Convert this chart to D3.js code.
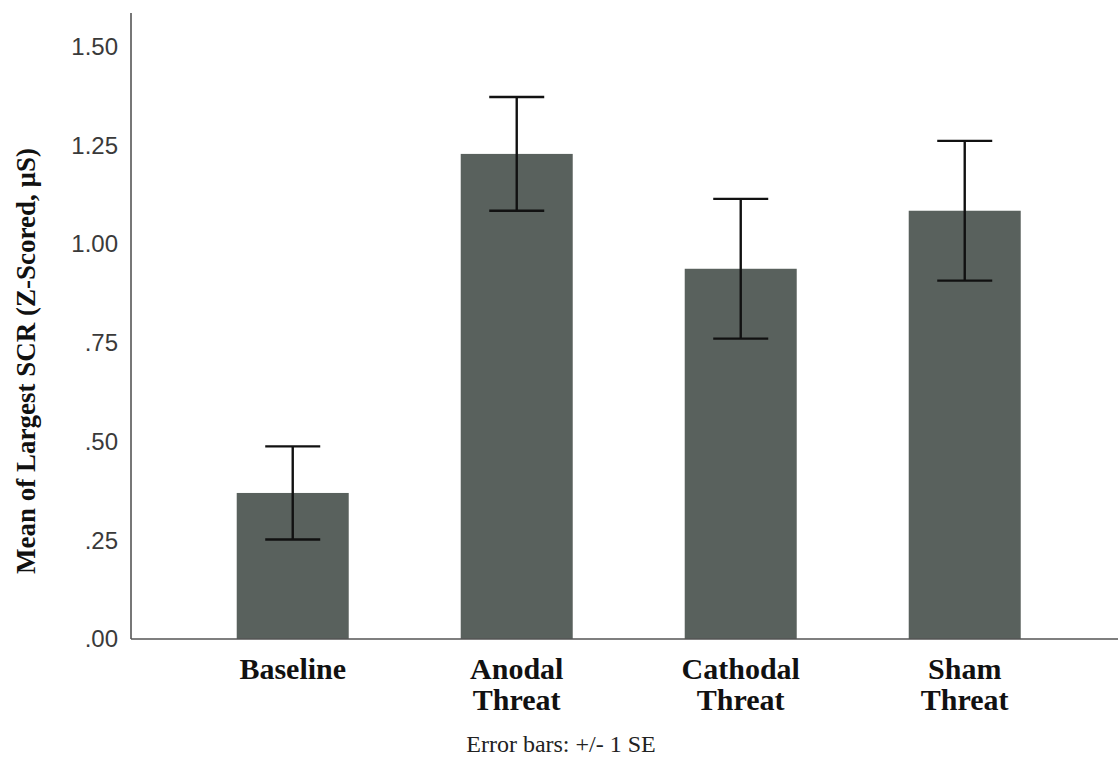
<!DOCTYPE html>
<html>
<head>
<meta charset="utf-8">
<script src="https://cdn.jsdelivr.net/npm/d3@7"></script>
<style>
  html, body { margin: 0; padding: 0; background: #fff; }
  svg { display: block; }
</style>
</head>
<body>
<svg id="chart" width="1118" height="758"></svg>
<script>
// Conditions (each label may wrap onto two lines)
const categories = ["Baseline", "Anodal Threat", "Cathodal Threat", "Sham Threat"];
const categoryLines = [["Baseline"], ["Anodal", "Threat"], ["Cathodal", "Threat"], ["Sham", "Threat"]];
// Mean of largest SCR (z-scored) and its standard error
const means = [0.370, 1.229, 0.938, 1.085];
const stdErrors = [0.118, 0.144, 0.177, 0.177];
// Y axis ticks and their printed labels
const yTicks = [0, 0.25, 0.5, 0.75, 1.0, 1.25, 1.5];
const yTickLabels = [".00", ".25", ".50", ".75", "1.00", "1.25", "1.50"];

const svg = d3.select("#chart");

const x0 = 131, yBase = 639, yTop = 13;
const y = d3.scaleLinear().domain([0, 1.586]).range([yBase, yTop]);

const padOuter = 0.472;
const step = 224;
const x = d3.scaleBand()
  .domain(categories)
  .range([x0, x0 + step * (categories.length - 0.5 + 2 * padOuter)])
  .paddingInner(0.5)
  .paddingOuter(padOuter);

const barColor = "#59615d";

// Bars
svg.append("g").selectAll("rect")
  .data(categories)
  .join("rect")
  .attr("x", d => x(d))
  .attr("y", (d, i) => y(means[i]))
  .attr("width", x.bandwidth())
  .attr("height", (d, i) => y(0) - y(means[i]))
  .attr("fill", barColor);

// Error bars (+/- 1 SE)
const capHalf = 27.5;
const eb = svg.append("g").attr("stroke", "#111").attr("stroke-width", 2.4);
categories.forEach((c, i) => {
  const cx = x(c) + x.bandwidth() / 2;
  const hi = y(means[i] + stdErrors[i]);
  const lo = y(means[i] - stdErrors[i]);
  eb.append("line").attr("x1", cx).attr("x2", cx).attr("y1", hi).attr("y2", lo);
  eb.append("line").attr("x1", cx - capHalf).attr("x2", cx + capHalf).attr("y1", hi).attr("y2", hi);
  eb.append("line").attr("x1", cx - capHalf).attr("x2", cx + capHalf).attr("y1", lo).attr("y2", lo);
});

// Y axis
const yAxis = d3.axisLeft(y)
  .tickValues(yTicks)
  .tickSize(0)
  .tickPadding(13)
  .tickFormat((d, i) => yTickLabels[i]);

const gy = svg.append("g")
  .attr("transform", `translate(${x0},0)`)
  .call(yAxis);
gy.select(".domain").remove();
gy.selectAll("text")
  .attr("font-family", "'Liberation Sans', Arial, sans-serif")
  .attr("font-size", 24)
  .attr("fill", "#3a3a3a");

// Axis lines
svg.append("line")
  .attr("x1", x0).attr("x2", x0)
  .attr("y1", yTop).attr("y2", yBase)
  .attr("stroke", "#555").attr("stroke-width", 1.6);
svg.append("line")
  .attr("x1", x0).attr("x2", 1118)
  .attr("y1", yBase).attr("y2", yBase)
  .attr("stroke", "#555").attr("stroke-width", 1.6);

// Category labels
const serif = "'Liberation Serif', 'Times New Roman', serif";
const gx = svg.append("g");
categories.forEach((c, i) => {
  const t = gx.append("text")
    .attr("x", x(c) + x.bandwidth() / 2)
    .attr("y", 679)
    .attr("text-anchor", "middle")
    .attr("font-family", serif)
    .attr("font-weight", "bold")
    .attr("font-size", 30)
    .attr("fill", "#111");
  categoryLines[i].forEach((line, j) => {
    t.append("tspan")
      .attr("x", x(c) + x.bandwidth() / 2)
      .attr("dy", j === 0 ? 0 : 31)
      .text(line);
  });
});

// Y axis title
svg.append("text")
  .attr("transform", "translate(35,361) rotate(-90)")
  .attr("text-anchor", "middle")
  .attr("font-family", serif)
  .attr("font-weight", "bold")
  .attr("font-size", 27)
  .attr("fill", "#111")
  .text("Mean of Largest SCR (Z-Scored, µS)");

// Footnote
svg.append("text")
  .attr("x", 561)
  .attr("y", 752)
  .attr("text-anchor", "middle")
  .attr("font-family", serif)
  .attr("font-size", 24)
  .attr("fill", "#222")
  .text("Error bars: +/- 1 SE");
</script>
</body>
</html>
